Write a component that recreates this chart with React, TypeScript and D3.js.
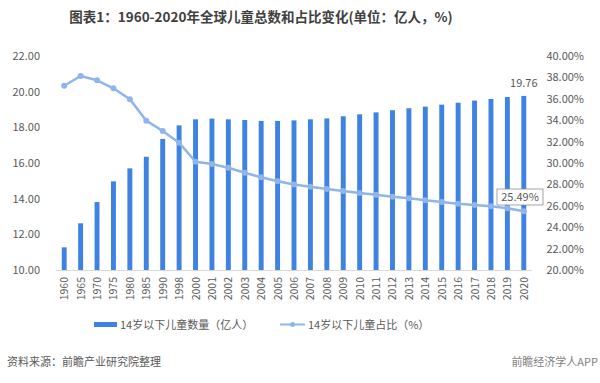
import React from "react";
import * as d3 from "d3";

const years = ["1960","1965","1970","1975","1980","1985","1990","1998","2000","2001","2002","2003","2004","2005","2006","2007","2008","2009","2010","2011","2012","2013","2014","2015","2016","2017","2018","2019","2020"];
const childCount = [11.27,12.62,13.81,14.97,15.70,16.35,17.35,18.11,18.45,18.49,18.45,18.41,18.36,18.36,18.39,18.45,18.50,18.62,18.73,18.84,18.96,19.07,19.16,19.27,19.38,19.50,19.59,19.70,19.76];
const childShare = [37.22,38.13,37.73,36.98,35.95,33.96,32.99,31.90,30.12,29.91,29.56,29.09,28.66,28.29,28.00,27.79,27.57,27.38,27.20,27.04,26.85,26.70,26.51,26.36,26.20,26.07,25.95,25.77,25.49];
const leftTicks = [10,12,14,16,18,20,22];
const rightTicks = [20,22,24,26,28,30,32,34,36,38,40];
const title = "图表1：1960-2020年全球儿童总数和占比变化(单位：亿人，%)";
const legendBar = "14岁以下儿童数量（亿人）";
const legendLine = "14岁以下儿童占比（%）";
const source = "资料来源：前瞻产业研究院整理";

const BAR = "#3f83e2";
const LINE = "#8fb5ec";
const TXT = "#595959";
const FONT = "'Noto Sans CJK SC', 'Noto Sans', sans-serif";

export default function App() {
  const W = 600, H = 383;
  const left = 56, right = 532, top = 56, bottom = 270;
  const x = d3.scaleBand<string>().domain(years).range([left, right]).paddingInner(0.7).paddingOuter(0.35);
  const yL = d3.scaleLinear().domain([10, 22]).range([bottom, top]);
  const yR = d3.scaleLinear().domain([20, 40]).range([bottom, top]);
  const cx = (y: string) => (x(y) as number) + x.bandwidth() / 2;
  const line = d3.line<number>().x((_, i) => cx(years[i])).y((d) => yR(d));
  const last = years.length - 1;

  return (
    <svg width={W} height={H} style={{ position: "absolute", left: 0, top: 0, background: "#fff" }} fontFamily={FONT}>
      <rect width={W} height={H} fill="#fff" />
      <text x={261} y={22} textAnchor="middle" fontSize={13.5} fontWeight="bold" fill="#404040">{title}</text>

      {leftTicks.map((t) => (
        <text key={"l" + t} x={40} y={yL(t) + 4} textAnchor="end" fontSize={11} fill={TXT}>{t.toFixed(2)}</text>
      ))}
      {rightTicks.map((t) => (
        <text key={"r" + t} x={584} y={yR(t) + 4} textAnchor="end" fontSize={11} fill={TXT}>{t.toFixed(2)}%</text>
      ))}

      <line x1={left} x2={right} y1={bottom + 0.5} y2={bottom + 0.5} stroke="#d9d9d9" strokeWidth={1} />

      {years.map((yr, i) => (
        <rect key={yr} x={x(yr)} y={yL(childCount[i])} width={x.bandwidth()} height={bottom - yL(childCount[i])} fill={BAR} />
      ))}

      <path d={line(childShare) || ""} fill="none" stroke={LINE} strokeWidth={2.5} strokeLinejoin="round" />
      {years.map((yr, i) => (
        <circle key={"c" + yr} cx={cx(yr)} cy={yR(childShare[i])} r={3} fill={LINE} />
      ))}

      {years.map((yr) => (
        <text key={"t" + yr} transform={`translate(${cx(yr) + 4},${277}) rotate(-90)`} textAnchor="end" fontSize={10.5} fill={TXT}>{yr}</text>
      ))}

      <text x={cx(years[last])} y={87} textAnchor="middle" fontSize={11} fill={TXT}>{childCount[last].toFixed(2)}</text>
      <rect x={497} y={189} width={46} height={16} fill="#fff" stroke="#8c8c8c" strokeWidth={0.8} />
      <text x={520} y={201} textAnchor="middle" fontSize={11} fill={TXT}>{childShare[last].toFixed(2)}%</text>

      <rect x={94} y={322} width={23} height={5} fill={BAR} />
      <text x={120} y={329} fontSize={11} fill={TXT}>{legendBar}</text>
      <line x1={280} x2={305} y1={324.5} y2={324.5} stroke={LINE} strokeWidth={2} />
      <circle cx={292.5} cy={324.5} r={2.5} fill={LINE} />
      <text x={308} y={329} fontSize={11} fill={TXT}>{legendLine}</text>

      <text x={7} y={366} fontSize={11} fill={TXT}>{source}</text>
      <text x={598} y={366} textAnchor="end" fontSize={11} fill="#7f7f7f">前瞻经济学人APP</text>
    </svg>
  );
}
